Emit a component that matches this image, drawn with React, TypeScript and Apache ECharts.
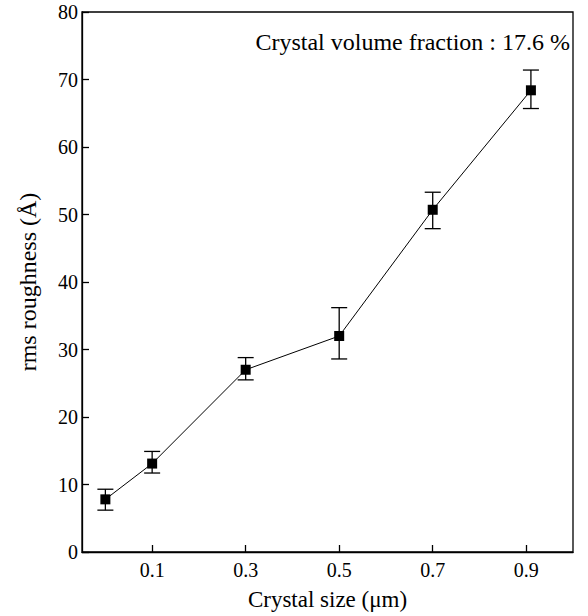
import React, { useEffect, useRef } from "react";
import * as echarts from "echarts";

const crystalSize = [0.0, 0.1, 0.3, 0.5, 0.7, 0.91];
const roughness = [7.8, 13.1, 27.0, 32.0, 50.7, 68.4];
const errLow = [6.2, 11.7, 25.5, 28.6, 47.9, 65.7];
const errHigh = [9.3, 14.9, 28.8, 36.2, 53.3, 71.4];
const xTickValues = [0.1, 0.3, 0.5, 0.7, 0.9];
const annotation = "Crystal volume fraction : 17.6 %";

const FONT = "'Liberation Serif', 'Times New Roman', serif";

export default function App() {
  const ref = useRef<HTMLDivElement>(null);
  useEffect(() => {
    if (!ref.current) return;
    const chart = echarts.init(ref.current, null, { renderer: "svg" });
    const points = crystalSize.map((x, i) => [x, roughness[i]]);
    const errData = crystalSize.map((x, i) => [x, errLow[i], errHigh[i]]);
    chart.setOption({
      animation: false,
      backgroundColor: "#fff",
      grid: {
        left: 82,
        right: 15,
        top: 12,
        bottom: 64,
        outerBoundsMode: "none",
        containLabel: false,
        show: true,
        borderColor: "#000",
        borderWidth: 1.3,
      },
      xAxis: {
        type: "value",
        min: -0.05,
        max: 1.0,
        name: "Crystal size (\u03bcm)",
        nameLocation: "middle",
        nameGap: 36,
        nameTextStyle: { fontFamily: FONT, fontSize: 23, color: "#000" },
        axisLine: { onZero: false, lineStyle: { color: "#000", width: 1.3 } },
        axisTick: {
          inside: true,
          length: 7,
          lineStyle: { color: "#000", width: 1.3 },
          customValues: xTickValues,
        },
        axisLabel: {
          fontFamily: FONT,
          fontSize: 20,
          color: "#000",
          margin: 8,
          customValues: xTickValues,
          formatter: (v: number) => v.toFixed(1),
        },
        splitLine: { show: false },
      },
      yAxis: {
        type: "value",
        min: 0,
        max: 80,
        interval: 10,
        name: "rms roughness (\u00c5)",
        nameLocation: "middle",
        nameGap: 42,
        nameTextStyle: { fontFamily: FONT, fontSize: 24, color: "#000" },
        axisLine: { show: true, onZero: false, lineStyle: { color: "#000", width: 1.3 } },
        axisTick: {
          show: true,
          inside: true,
          length: 7,
          lineStyle: { color: "#000", width: 1.3 },
        },
        axisLabel: {
          fontFamily: FONT,
          fontSize: 20,
          color: "#000",
          margin: 4,
        },
        splitLine: { show: false },
      },
      graphic: [
        {
          type: "text",
          right: 18,
          top: 30,
          style: {
            text: annotation,
            fontFamily: FONT,
            fontSize: 24,
            fill: "#000",
          },
        },
      ],
      series: [
        {
          type: "custom",
          data: errData,
          z: 3,
          renderItem: (params: any, api: any) => {
            const x = api.value(0);
            const lo = api.coord([x, api.value(1)]);
            const hi = api.coord([x, api.value(2)]);
            const w = 8;
            const style = { stroke: "#000", lineWidth: 1.3 };
            return {
              type: "group",
              children: [
                { type: "line", shape: { x1: lo[0], y1: lo[1], x2: hi[0], y2: hi[1] }, style },
                { type: "line", shape: { x1: lo[0] - w, y1: lo[1], x2: lo[0] + w, y2: lo[1] }, style },
                { type: "line", shape: { x1: hi[0] - w, y1: hi[1], x2: hi[0] + w, y2: hi[1] }, style },
              ],
            };
          },
        },
        {
          type: "line",
          data: points,
          z: 4,
          symbol: "rect",
          symbolSize: 10,
          showSymbol: true,
          itemStyle: { color: "#000" },
          lineStyle: { color: "#000", width: 1 },
        },
      ],
    });
    return () => chart.dispose();
  }, []);
  return (
    <div
      ref={ref}
      style={{ position: "absolute", left: 0, top: 0, width: 588, height: 616 }}
    />
  );
}
